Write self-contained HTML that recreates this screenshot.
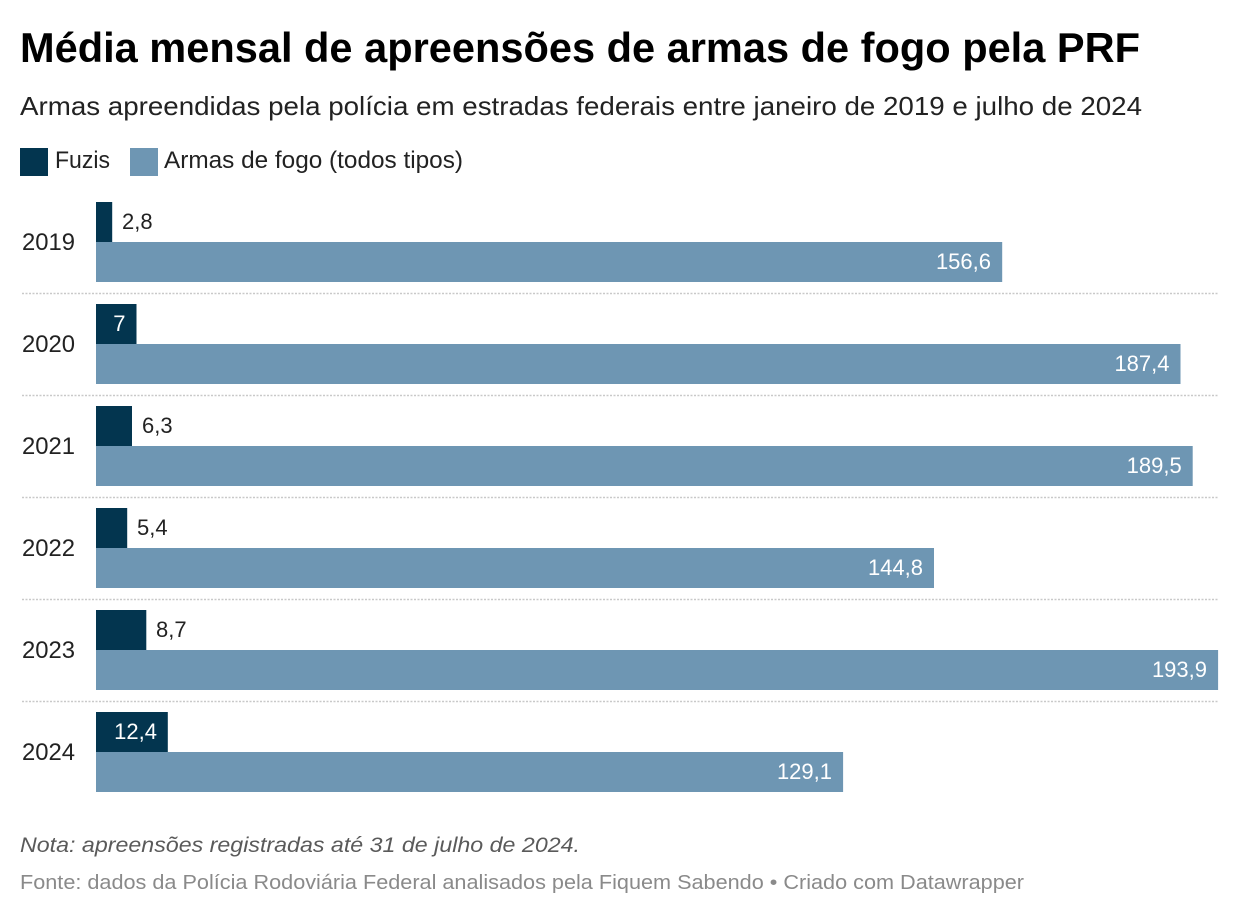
<!DOCTYPE html>
<html>
<head>
<meta charset="utf-8">
<style>
  html, body { margin: 0; padding: 0; background: #ffffff; }
  svg { display: block; }
  text { font-family: "Liberation Sans", "DejaVu Sans", sans-serif; }
</style>
</head>
<body>
<svg width="1240" height="918" viewBox="0 0 1240 918" xmlns="http://www.w3.org/2000/svg">
  <rect width="1240" height="918" fill="#ffffff"/>

  <!-- Title -->
  <text x="20" y="62" font-size="42" font-weight="bold" fill="#000000" textLength="1120" lengthAdjust="spacingAndGlyphs">Média mensal de apreensões de armas de fogo pela PRF</text>
  <!-- Subtitle -->
  <text x="20" y="115" font-size="26" fill="#222222" textLength="1122" lengthAdjust="spacingAndGlyphs">Armas apreendidas pela polícia em estradas federais entre janeiro de 2019 e julho de 2024</text>

  <!-- Legend -->
  <rect x="20" y="148" width="28" height="28" fill="#03354f"/>
  <text x="55" y="168" font-size="24" fill="#222222" textLength="55" lengthAdjust="spacingAndGlyphs">Fuzis</text>
  <rect x="130" y="148" width="28" height="28" fill="#6e96b3"/>
  <text x="164" y="168" font-size="24" fill="#222222" textLength="299" lengthAdjust="spacingAndGlyphs">Armas de fogo (todos tipos)</text>

  <!-- Separators -->
  <g stroke="#c9c9c9" stroke-width="1.5" stroke-dasharray="2,1.5">
    <line x1="22" y1="293.5" x2="1218" y2="293.5"/>
    <line x1="22" y1="395.5" x2="1218" y2="395.5"/>
    <line x1="22" y1="497.5" x2="1218" y2="497.5"/>
    <line x1="22" y1="599.5" x2="1218" y2="599.5"/>
    <line x1="22" y1="701.5" x2="1218" y2="701.5"/>
  </g>

  <!-- Year labels -->
  <g font-size="24" fill="#222222">
    <text x="22" y="250" textLength="53" lengthAdjust="spacingAndGlyphs">2019</text>
    <text x="22" y="352" textLength="53" lengthAdjust="spacingAndGlyphs">2020</text>
    <text x="22" y="454" textLength="53" lengthAdjust="spacingAndGlyphs">2021</text>
    <text x="22" y="556" textLength="53" lengthAdjust="spacingAndGlyphs">2022</text>
    <text x="22" y="658" textLength="53" lengthAdjust="spacingAndGlyphs">2023</text>
    <text x="22" y="760" textLength="53" lengthAdjust="spacingAndGlyphs">2024</text>
  </g>

  <!-- Fuzis bars -->
  <g fill="#03354f">
    <rect x="96" y="202" width="16.2" height="40"/>
    <rect x="96" y="304" width="40.5" height="40"/>
    <rect x="96" y="406" width="36.0" height="40"/>
    <rect x="96" y="508" width="31.2" height="40"/>
    <rect x="96" y="610" width="50.3" height="40"/>
    <rect x="96" y="712" width="71.8" height="40"/>
  </g>

  <!-- Armas bars -->
  <g fill="#6e96b3">
    <rect x="96" y="242" width="906.2" height="40"/>
    <rect x="96" y="344" width="1084.5" height="40"/>
    <rect x="96" y="446" width="1096.7" height="40"/>
    <rect x="96" y="548" width="838.0" height="40"/>
    <rect x="96" y="650" width="1122.1" height="40"/>
    <rect x="96" y="752" width="747.1" height="40"/>
  </g>

  <!-- Fuzis values -->
  <g font-size="22">
    <text x="122" y="229" fill="#222222">2,8</text>
    <text x="125.5" y="331" fill="#ffffff" text-anchor="end">7</text>
    <text x="142" y="433" fill="#222222">6,3</text>
    <text x="137" y="535" fill="#222222">5,4</text>
    <text x="156" y="637" fill="#222222">8,7</text>
    <text x="157" y="739" fill="#ffffff" text-anchor="end">12,4</text>
  </g>

  <!-- Armas values -->
  <g font-size="22" fill="#ffffff" text-anchor="end">
    <text x="991" y="269">156,6</text>
    <text x="1169.5" y="371">187,4</text>
    <text x="1181.7" y="473">189,5</text>
    <text x="923" y="575">144,8</text>
    <text x="1207" y="677">193,9</text>
    <text x="832" y="779">129,1</text>
  </g>

  <!-- Notes -->
  <text x="20" y="852" font-size="21" font-style="italic" fill="#5a5a5a" textLength="560" lengthAdjust="spacingAndGlyphs">Nota: apreensões registradas até 31 de julho de 2024.</text>
  <text x="20" y="889" font-size="20" fill="#8a8a8a" textLength="1004" lengthAdjust="spacingAndGlyphs">Fonte: dados da Polícia Rodoviária Federal analisados pela Fiquem Sabendo • Criado com Datawrapper</text>
</svg>
</body>
</html>
